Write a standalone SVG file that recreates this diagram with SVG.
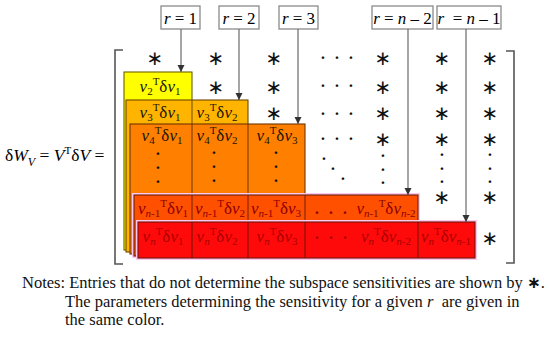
<svg xmlns="http://www.w3.org/2000/svg" width="550" height="338" viewBox="0 0 550 338">
<defs>
<marker id="ah" markerWidth="8" markerHeight="8" refX="7" refY="4" orient="auto" markerUnits="userSpaceOnUse">
<path d="M0,0.5 L7,4 L0,7.5 Z" fill="#333"/>
</marker>
<style>
text{font-family:"Liberation Serif","Times New Roman",serif;}
.cell{font-size:17px;text-anchor:middle;}
.i{font-style:italic;}
.s{font-size:11px;}
.ast{font-family:"DejaVu Sans",sans-serif;font-size:20px;text-anchor:middle;fill:#111;}
.dot{font-size:16px;font-weight:bold;text-anchor:middle;fill:#111;}
.lab{font-size:17px;text-anchor:middle;}
.lbox{fill:#fff;stroke:#8a8a8a;stroke-width:1.3;}
.arr{stroke:#6a6a6a;stroke-width:1.2;fill:none;marker-end:url(#ah);}
.br{stroke:#555;stroke-width:1.6;fill:none;}
.t1{fill:#221400;}
.t2{fill:#8b0000;}
.t3{fill:#a80000;}
.note{font-size:16.5px;fill:#111;}
</style>
</defs>
<rect width="550" height="338" fill="#fff"/>

<g id="equation">
<text x="5" y="161" font-size="17.5">δ<tspan class="i">W</tspan><tspan class="i" font-size="12" dy="5">V</tspan><tspan dy="-5"> = </tspan><tspan class="i">V</tspan><tspan font-size="11" dy="-7">T</tspan><tspan dy="7">δ</tspan><tspan class="i">V</tspan> =</text>
</g>

<g id="brackets">
<path class="br" d="M123,50 H115 V264 H123"/>
<path class="br" d="M506,51 H514 V263 H506"/>
</g>

<g id="block-r1">
<rect x="124" y="72" width="68" height="178" fill="#ffff00" stroke="#6b6000" stroke-width="1.1"/>
<text class="cell t1" x="160" y="92"><tspan class="i">v</tspan><tspan class="s" dy="3">2</tspan><tspan class="s" dy="-10">T</tspan><tspan dy="7">δ</tspan><tspan class="i">v</tspan><tspan class="s" dy="3">1</tspan></text>
</g>
<g id="block-r2">
<rect x="126" y="100" width="122" height="152" fill="#ffb400" stroke="#6e4a00" stroke-width="1.1"/>
<line x1="192" y1="100" x2="192" y2="252" stroke="#6e4a00" stroke-width="1"/>
<text class="cell t1" x="160" y="118"><tspan class="i">v</tspan><tspan class="s" dy="3">3</tspan><tspan class="s" dy="-10">T</tspan><tspan dy="7">δ</tspan><tspan class="i">v</tspan><tspan class="s" dy="3">1</tspan></text>
<text class="cell t1" x="217" y="118"><tspan class="i">v</tspan><tspan class="s" dy="3">3</tspan><tspan class="s" dy="-10">T</tspan><tspan dy="7">δ</tspan><tspan class="i">v</tspan><tspan class="s" dy="3">2</tspan></text>
</g>
<g id="block-r3">
<rect x="130" y="124" width="175" height="130" fill="#ff8000" stroke="#6e3400" stroke-width="1.1"/>
<line x1="192" y1="124" x2="192" y2="254" stroke="#6e3400" stroke-width="1"/>
<line x1="248" y1="124" x2="248" y2="254" stroke="#6e3400" stroke-width="1"/>
<text class="cell t1" x="162" y="141"><tspan class="i">v</tspan><tspan class="s" dy="3">4</tspan><tspan class="s" dy="-10">T</tspan><tspan dy="7">δ</tspan><tspan class="i">v</tspan><tspan class="s" dy="3">1</tspan></text>
<text class="cell t1" x="217" y="141"><tspan class="i">v</tspan><tspan class="s" dy="3">4</tspan><tspan class="s" dy="-10">T</tspan><tspan dy="7">δ</tspan><tspan class="i">v</tspan><tspan class="s" dy="3">2</tspan></text>
<text class="cell t1" x="277" y="141"><tspan class="i">v</tspan><tspan class="s" dy="3">4</tspan><tspan class="s" dy="-10">T</tspan><tspan dy="7">δ</tspan><tspan class="i">v</tspan><tspan class="s" dy="3">3</tspan></text>
<text class="dot"><tspan x="158" y="159">·</tspan><tspan x="158" y="173">·</tspan><tspan x="158" y="187">·</tspan></text>
<text class="dot"><tspan x="214" y="158">·</tspan><tspan x="214" y="172">·</tspan><tspan x="214" y="186">·</tspan></text>
<text class="dot"><tspan x="276" y="158">·</tspan><tspan x="276" y="172">·</tspan><tspan x="276" y="186">·</tspan></text>
</g>
<g id="block-rn2">
<rect x="134" y="195" width="284" height="61" fill="none" stroke="#ffc8f0" stroke-width="4"/>
<rect x="134" y="195" width="284" height="61" fill="#ff5000" stroke="#6e2000" stroke-width="1.1"/>
<line x1="192" y1="195" x2="192" y2="256" stroke="#6e2000" stroke-width="1"/>
<line x1="248" y1="195" x2="248" y2="256" stroke="#6e2000" stroke-width="1"/>
<line x1="305" y1="195" x2="305" y2="256" stroke="#6e2000" stroke-width="1"/>
<text class="cell t2" x="163" y="214"><tspan class="i">v</tspan><tspan class="s" dy="3"><tspan class="i">n</tspan>-1</tspan><tspan class="s" dy="-10">T</tspan><tspan dy="7">δ</tspan><tspan class="i">v</tspan><tspan class="s" dy="3">1</tspan></text>
<text class="cell t2" x="220" y="214"><tspan class="i">v</tspan><tspan class="s" dy="3"><tspan class="i">n</tspan>-1</tspan><tspan class="s" dy="-10">T</tspan><tspan dy="7">δ</tspan><tspan class="i">v</tspan><tspan class="s" dy="3">2</tspan></text>
<text class="cell t2" x="276" y="214"><tspan class="i">v</tspan><tspan class="s" dy="3"><tspan class="i">n</tspan>-1</tspan><tspan class="s" dy="-10">T</tspan><tspan dy="7">δ</tspan><tspan class="i">v</tspan><tspan class="s" dy="3">3</tspan></text>
<text class="dot t2"><tspan x="317" y="218">·</tspan><tspan x="331" y="218">·</tspan><tspan x="345" y="218">·</tspan></text>
<text class="cell t2" x="386" y="214"><tspan class="i">v</tspan><tspan class="s" dy="3"><tspan class="i">n</tspan>-1</tspan><tspan class="s" dy="-10">T</tspan><tspan dy="7">δ</tspan><tspan class="i">v</tspan><tspan class="s" dy="3"><tspan class="i">n</tspan>-2</tspan></text>
</g>
<g id="block-rn1">
<rect x="138" y="222" width="337" height="36" fill="none" stroke="#ffc8f0" stroke-width="4"/>
<rect x="138" y="222" width="337" height="36" fill="#ff0a0a" stroke="#6e1500" stroke-width="1.1"/>
<line x1="192" y1="222" x2="192" y2="258" stroke="#6e1500" stroke-width="1"/>
<line x1="248" y1="222" x2="248" y2="258" stroke="#6e1500" stroke-width="1"/>
<line x1="305" y1="222" x2="305" y2="258" stroke="#6e1500" stroke-width="1"/>
<line x1="418" y1="222" x2="418" y2="258" stroke="#6e1500" stroke-width="1"/>
<text class="cell t3" x="163" y="242"><tspan class="i">v</tspan><tspan class="s" dy="3"><tspan class="i">n</tspan></tspan><tspan class="s" dy="-10">T</tspan><tspan dy="7">δ</tspan><tspan class="i">v</tspan><tspan class="s" dy="3">1</tspan></text>
<text class="cell t3" x="217" y="242"><tspan class="i">v</tspan><tspan class="s" dy="3"><tspan class="i">n</tspan></tspan><tspan class="s" dy="-10">T</tspan><tspan dy="7">δ</tspan><tspan class="i">v</tspan><tspan class="s" dy="3">2</tspan></text>
<text class="cell t3" x="277" y="242"><tspan class="i">v</tspan><tspan class="s" dy="3"><tspan class="i">n</tspan></tspan><tspan class="s" dy="-10">T</tspan><tspan dy="7">δ</tspan><tspan class="i">v</tspan><tspan class="s" dy="3">3</tspan></text>
<text class="dot t3"><tspan x="317" y="243">·</tspan><tspan x="331" y="243">·</tspan><tspan x="345" y="243">·</tspan></text>
<text class="cell t3" x="386" y="242"><tspan class="i">v</tspan><tspan class="s" dy="3"><tspan class="i">n</tspan></tspan><tspan class="s" dy="-10">T</tspan><tspan dy="7">δ</tspan><tspan class="i">v</tspan><tspan class="s" dy="3"><tspan class="i">n</tspan>-2</tspan></text>
<text class="cell t3" x="446" y="242"><tspan class="i">v</tspan><tspan class="s" dy="3"><tspan class="i">n</tspan></tspan><tspan class="s" dy="-10">T</tspan><tspan dy="7">δ</tspan><tspan class="i">v</tspan><tspan class="s" dy="3"><tspan class="i">n</tspan>-1</tspan></text>
</g>

<g id="entries">
<text class="ast" x="155" y="65">∗</text><text class="ast" x="216" y="65">∗</text><text class="ast" x="274" y="65">∗</text>
<text class="ast" x="383" y="65">∗</text><text class="ast" x="442" y="65">∗</text><text class="ast" x="490" y="65">∗</text>
<text class="ast" x="216" y="94">∗</text><text class="ast" x="274" y="94">∗</text>
<text class="ast" x="383" y="94">∗</text><text class="ast" x="442" y="94">∗</text><text class="ast" x="490" y="94">∗</text>
<text class="ast" x="274" y="120">∗</text>
<text class="ast" x="383" y="120">∗</text><text class="ast" x="442" y="120">∗</text><text class="ast" x="490" y="120">∗</text>
<text class="ast" x="383" y="146">∗</text><text class="ast" x="442" y="146">∗</text><text class="ast" x="490" y="146">∗</text>
<text class="ast" x="442" y="204">∗</text><text class="ast" x="490" y="204">∗</text>
<text class="ast" x="490" y="245">∗</text>
<text class="dot"><tspan x="323" y="63">·</tspan><tspan x="337" y="63">·</tspan><tspan x="351" y="63">·</tspan></text>
<text class="dot"><tspan x="323" y="91">·</tspan><tspan x="337" y="91">·</tspan><tspan x="351" y="91">·</tspan></text>
<text class="dot"><tspan x="323" y="119">·</tspan><tspan x="337" y="119">·</tspan><tspan x="351" y="119">·</tspan></text>
<text class="dot"><tspan x="323" y="144">·</tspan><tspan x="337" y="144">·</tspan><tspan x="351" y="144">·</tspan></text>
<text class="dot"><tspan x="324" y="164">·</tspan><tspan x="333" y="174">·</tspan><tspan x="343" y="184">·</tspan></text>
<text class="dot"><tspan x="383" y="161">·</tspan><tspan x="383" y="175">·</tspan><tspan x="383" y="188">·</tspan></text>
<text class="dot"><tspan x="442" y="160">·</tspan><tspan x="442" y="174">·</tspan><tspan x="442" y="187">·</tspan></text>
<text class="dot"><tspan x="490" y="160">·</tspan><tspan x="490" y="174">·</tspan><tspan x="490" y="187">·</tspan></text>
</g>

<g id="label-r1"><rect class="lbox" x="161" y="6" width="39" height="23"/><text class="lab" x="180.5" y="24"><tspan class="i">r</tspan> = 1</text></g>
<g id="label-r2"><rect class="lbox" x="219" y="6" width="40" height="23"/><text class="lab" x="239" y="24"><tspan class="i">r</tspan> = 2</text></g>
<g id="label-r3"><rect class="lbox" x="279" y="6" width="39" height="23"/><text class="lab" x="298.5" y="24"><tspan class="i">r</tspan> = 3</text></g>
<g id="label-rn2"><rect class="lbox" x="372" y="6" width="61" height="23"/><text class="lab" x="402.5" y="24"><tspan class="i">r</tspan> = <tspan class="i">n</tspan> – 2</text></g>
<g id="label-rn1"><rect class="lbox" x="437" y="6" width="64" height="23"/><text class="lab" x="469" y="24"><tspan class="i">r</tspan>&#160; = <tspan class="i">n</tspan> – 1</text></g>

<g id="connectors">
<line class="arr" x1="181" y1="29" x2="181" y2="72"/>
<line class="arr" x1="239" y1="29" x2="239" y2="100"/>
<line class="arr" x1="298" y1="29" x2="298" y2="124"/>
<line class="arr" x1="408" y1="29" x2="408" y2="195"/>
<line class="arr" x1="466" y1="29" x2="466" y2="222"/>
</g>

<g id="notes">
<text class="note" x="22" y="288">Notes: Entries that do not determine the subspace sensitivities are shown by <tspan font-family="DejaVu Sans,sans-serif" font-weight="bold">∗</tspan>.</text>
<text class="note" x="65" y="307">The parameters determining the sensitivity for a given <tspan class="i">r</tspan>&#160; are given in</text>
<text class="note" x="65" y="325">the same color.</text>
</g>
</svg>
